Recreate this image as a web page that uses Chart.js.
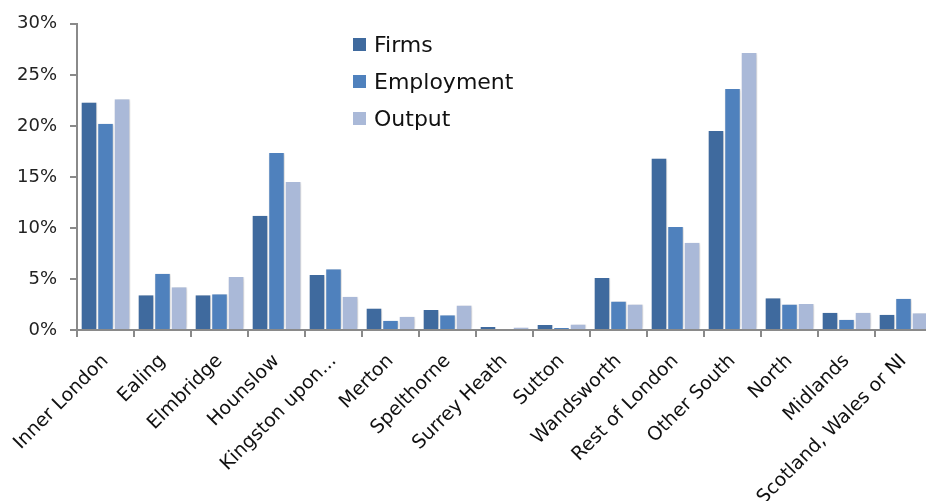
<!DOCTYPE html>
<html>
<head>
<meta charset="utf-8">
<script src="https://cdn.jsdelivr.net/npm/chart.js@4/dist/chart.umd.min.js"></script>
<style>
  html, body { margin: 0; padding: 0; background: #fff; overflow: hidden; }
  #wrap { position: relative; width: 940px; height: 501px; }
  #legend { position: absolute; left: 353px; top: 26px; font-family: "DejaVu Sans", sans-serif; font-size: 22px; color: #111; }
  #legend div { height: 37px; display: flex; align-items: center; }
  #legend span.box { display: inline-block; width: 13px; height: 13px; margin-right: 8px; }
</style>
</head>
<body>
<div id="wrap">
  <canvas id="barChart" width="940" height="501"></canvas>
  <div id="legend"></div>
</div>
<script>
// regions along the x axis
const categories = ['Inner London', 'Ealing', 'Elmbridge', 'Hounslow', 'Kingston upon...', 'Merton',
    'Spelthorne', 'Surrey Heath', 'Sutton', 'Wandsworth', 'Rest of London', 'Other South',
    'North', 'Midlands', 'Scotland, Wales or NI'];

// shares in percent
const firms      = [22.3, 3.4, 3.4, 11.2, 5.4, 2.1, 1.95, 0.3, 0.5, 5.1, 16.8, 19.5, 3.1, 1.7, 1.5];
const employment = [20.2, 5.5, 3.5, 17.35, 5.95, 0.9, 1.45, 0.1, 0.2, 2.8, 10.1, 23.6, 2.5, 1.0, 3.05];
const output     = [22.6, 4.2, 5.2, 14.5, 3.25, 1.3, 2.4, 0.25, 0.55, 2.5, 8.55, 27.15, 2.55, 1.7, 1.65];

const yTicks = [0, 5, 10, 15, 20, 25, 30];

const series = [
    { label: 'Firms', data: firms, color: '#3F6A9E' },
    { label: 'Employment', data: employment, color: '#4F81BD' },
    { label: 'Output', data: output, color: '#AAB9D8' }
];

// soft shadow behind the bars
const barShadow = {
    id: 'barShadow',
    beforeDatasetsDraw(chart) {
        const ctx = chart.ctx;
        ctx.save();
        ctx.shadowColor = 'rgba(0,0,0,0.18)';
        ctx.shadowBlur = 4;
        ctx.shadowOffsetX = 2;
        ctx.shadowOffsetY = 0;
    },
    afterDatasetsDraw(chart) {
        chart.ctx.restore();
    }
};

const ctx = document.getElementById('barChart');
new Chart(ctx, {
    type: 'bar',
    data: {
        labels: categories,
        datasets: series.map(s => ({
            label: s.label,
            data: s.data,
            backgroundColor: s.color,
            borderColor: '#ffffff',
            borderWidth: { top: 0, left: 1, right: 1, bottom: 0 },
            categoryPercentage: 0.87,
            barPercentage: 1
        }))
    },
    options: {
        responsive: false,
        animation: false,
        layout: { padding: { top: 23, right: 8, left: 0, bottom: 0 } },
        plugins: {
            legend: { display: false },
            tooltip: { enabled: false }
        },
        scales: {
            x: {
                grid: { drawOnChartArea: false, offset: true, color: '#8a8a8a', lineWidth: 2, tickLength: 7 },
                border: { color: '#8a8a8a', width: 2 },
                ticks: {
                    color: '#111',
                    font: { family: 'DejaVu Sans', size: 19 },
                    minRotation: 45,
                    maxRotation: 45,
                    autoSkip: false,
                    padding: 13
                },
                afterFit: s => { s.height = 171; }
            },
            y: {
                min: 0,
                max: 30,
                afterBuildTicks: s => { s.ticks = yTicks.map(v => ({ value: v })); },
                grid: { drawOnChartArea: false, color: '#8a8a8a', lineWidth: 2, tickLength: 7 },
                border: { color: '#8a8a8a', width: 2 },
                ticks: {
                    color: '#222',
                    font: { family: 'DejaVu Sans', size: 18 },
                    padding: 13,
                    callback: v => v + '%'
                },
                afterFit: s => { s.width = 77; }
            }
        }
    },
    plugins: [barShadow]
});

// legend stacked inside the plot
const legend = document.getElementById('legend');
series.forEach(s => {
    const row = document.createElement('div');
    row.innerHTML = '<span class="box" style="background:' + s.color + '"></span>' + s.label;
    legend.appendChild(row);
});
</script>
</body>
</html>
